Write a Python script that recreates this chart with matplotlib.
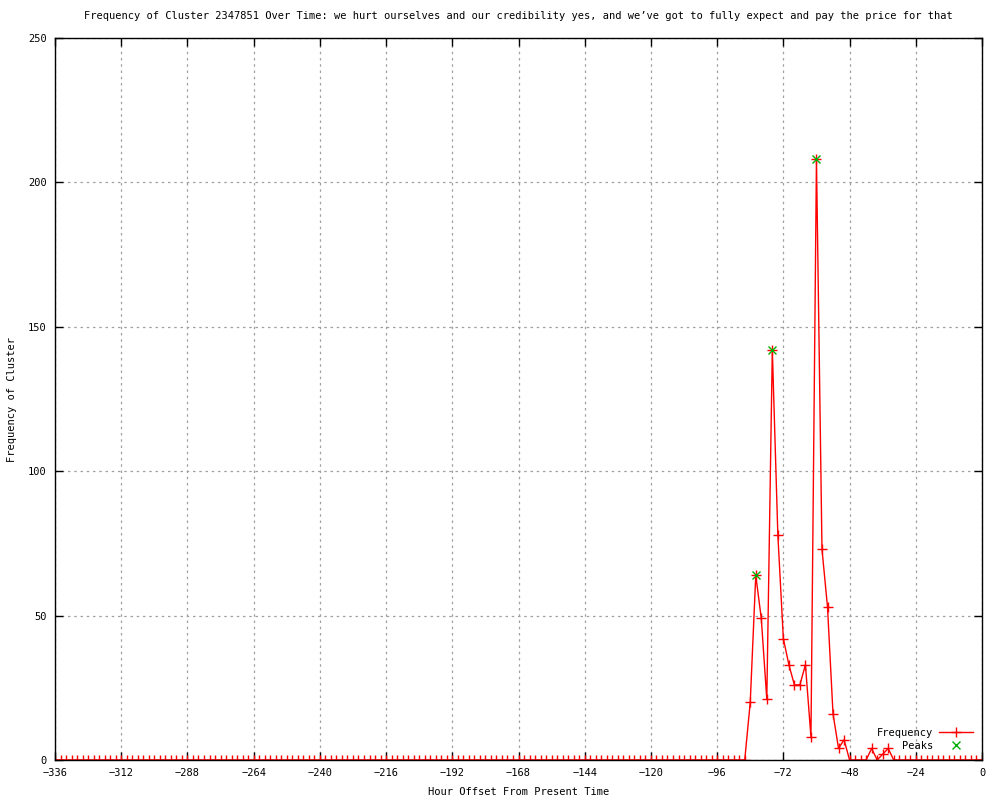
import matplotlib
matplotlib.use("Agg")
import matplotlib.pyplot as plt

# ── data ─────────────────────────────────────────────────────────────────────

HOURS = list(range(-336, 1, 2))
# non-zero frequencies keyed by hour offset; everything else is 0
NONZERO = {
    -84: 20, -82: 64, -80: 49, -78: 21, -76: 142, -74: 78, -72: 42,
    -70: 33, -68: 26, -66: 26, -64: 33, -62: 8, -60: 208, -58: 73,
    -56: 53, -54: 16, -52: 4, -50: 7, -40: 4, -36: 2, -34: 4,
}
FREQ = [NONZERO.get(h, 0) for h in HOURS]

PEAK_HOURS = [-82, -76, -60]
PEAK_FREQ = [64, 142, 208]

XTICKS = list(range(-336, 1, 24))
YTICKS = [0, 50, 100, 150, 200, 250]

TITLE = ("Frequency of Cluster 2347851 Over Time: we hurt ourselves and our "
         "credibility yes, and we\u2019ve got to fully expect and pay the price for that")

# ── plot ─────────────────────────────────────────────────────────────────────

plt.rcParams["font.family"] = ["DejaVu Sans Mono"]
plt.rcParams["font.size"] = 7.5

fig = plt.figure(figsize=(10, 8), dpi=100)
ax = fig.add_axes([0.055, 0.05, 0.927, 0.9025])

ax.plot(HOURS, FREQ, color="red", lw=1, marker="+", ms=7, mew=1,
        label="Frequency")
ax.plot(PEAK_HOURS, PEAK_FREQ, ls="none", color="#00b000", marker="x",
        ms=6, mew=1, label="Peaks")

ax.set_xlim(-336, 0)
ax.set_ylim(0, 250)
ax.set_xticks(XTICKS)
ax.set_yticks(YTICKS)
ax.tick_params(direction="in", length=6, width=1, top=True, right=True,
               pad=6, labelsize=7.5)
ax.grid(True, color="#a0a0a0", ls=(0, (2, 3)), lw=0.9)

for s in ax.spines.values():
    s.set_linewidth(1)

ax.set_title(TITLE, fontsize=7.5, pad=14)
ax.set_xlabel("Hour Offset From Present Time", fontsize=7.5, labelpad=6)
ax.set_ylabel("Frequency of Cluster", fontsize=7.5, labelpad=8)

# markerfirst=False puts the sample on the right and right-aligns the labels
ax.legend(loc="lower right", frameon=False, markerfirst=False,
          fontsize=7.5, handlelength=3.2, handletextpad=0.6,
          borderaxespad=0.5, labelspacing=0.25)

fig.savefig("out.png", dpi=100)
